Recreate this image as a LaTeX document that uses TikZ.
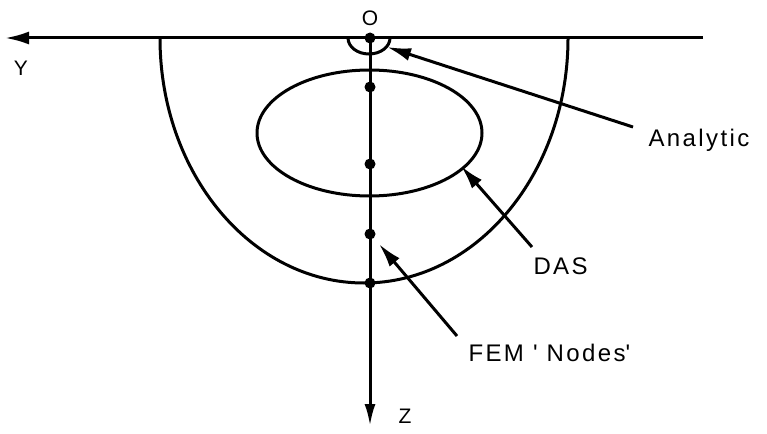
\documentclass[tikz,border=0pt]{standalone}
\usepackage{fontspec}
\setmainfont{Liberation Sans}[LetterSpace=10]
\usetikzlibrary{arrows.meta}
\begin{document}
\begin{tikzpicture}[x=1pt,y=-1pt, line width=3pt,
  lbl/.style={font=\fontsize{24}{28}\selectfont, inner sep=0pt, anchor=base west},
  axlbl/.style={font=\fontsize{21}{24}\selectfont, inner sep=0pt},
  dot/.style={circle, fill, inner sep=0pt, minimum size=11pt},
  ptr/.style={-{Latex[length=24pt,width=13pt]}}]
\useasboundingbox (0,0) rectangle (767,433);
% axes
\coordinate (O) at (370,38);
\coordinate (Yend) at (703,38);
\coordinate (Ytip) at (5,38);
\coordinate (Ztip) at (370,426);
\draw[-{Latex[length=24pt,width=13pt]}] (Yend) -- (Ytip);
\draw[-{Latex[length=22pt,width=11pt]}] (O) -- (Ztip);
% outer U and analytic half circle
\begin{scope}
  \clip (0,38) rectangle (767,433);
  \draw (364,38) ellipse [x radius=204, y radius=245];
  \draw (369,38) ellipse [x radius=21, y radius=16];
\end{scope}
% DAS ellipse
\draw (369.5,133) ellipse [x radius=112.5, y radius=63];
% FEM nodes
\node[dot] (n0) at (370,38) {};
\node[dot] (n1) at (370,87) {};
\node[dot] (n2) at (370,164) {};
\node[dot] (n3) at (370,234) {};
\node[dot] (n4) at (370,283) {};
% axis labels
\node[axlbl] (lO) at (370,18) {O};
\node[axlbl] (lY) at (21,68) {Y};
\node[axlbl] (lZ) at (405,416) {Z};
% callouts
\node[lbl] (tA) at (647,146) {Analytic};
\node[lbl] (tD) at (532,274) {DAS};
\node[lbl] (tF) at (467,361) {FEM \textquotesingle{} Nodes\textquotesingle};
\coordinate (aS) at (633,127);
\coordinate (aT) at (387,47);
\coordinate (dS) at (532,247);
\coordinate (dT) at (461,166);
\coordinate (fS) at (457,336);
\coordinate (fT) at (379,244);
\draw[ptr] (aS) -- (aT);
\draw[ptr] (dS) -- (dT);
\draw[ptr] (fS) -- (fT);
\end{tikzpicture}
\end{document}
